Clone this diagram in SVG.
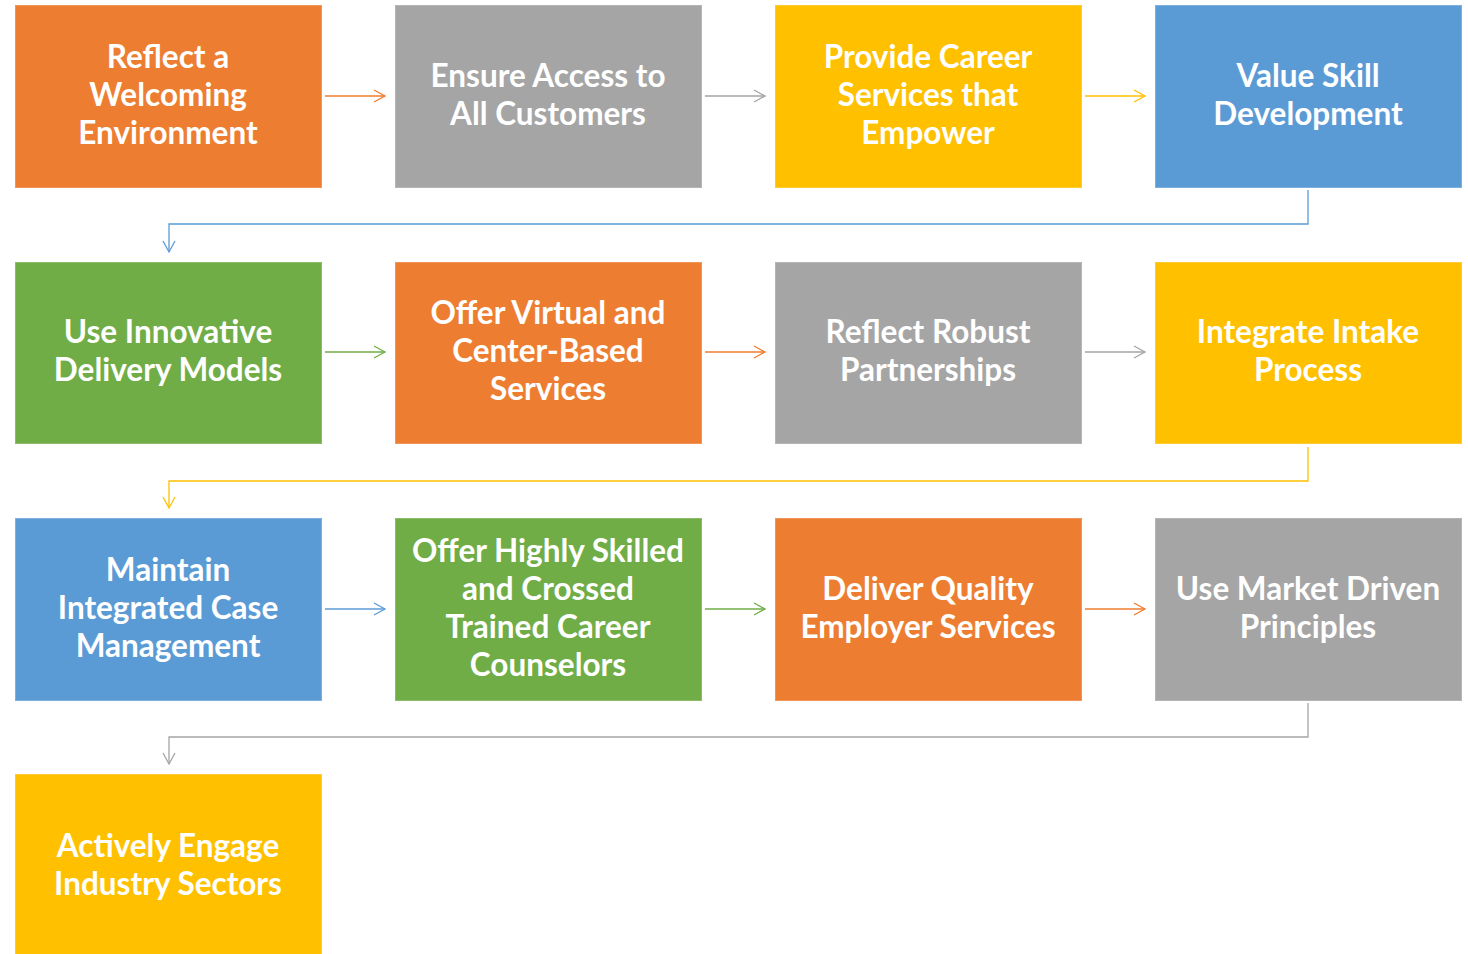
<svg xmlns="http://www.w3.org/2000/svg" width="1468" height="954" viewBox="0 0 1468 954">
<style>
.box{stroke-width:1}
.or{fill:#ED7D31;stroke:#F0965A}
.gr{fill:#A5A5A5;stroke:#B5B5B5}
.ye{fill:#FFC000;stroke:#FFCB33}
.bl{fill:#5B9BD5;stroke:#7DB0DE}
.gn{fill:#70AD47;stroke:#8BBD69}
text{font-family:Lato,"Open Sans","Liberation Sans",sans-serif;font-weight:700;font-size:31.5px;fill:#FFFFFF;text-anchor:middle}
.c{fill:none;stroke-width:1.3}
.co{stroke:#ED7D31}.cg{stroke:#A5A5A5}.cy{stroke:#FFC000}.cb{stroke:#5B9BD5}.cn{stroke:#70AD47}
</style>
<defs>
<marker id="mo" markerUnits="userSpaceOnUse" markerWidth="14" markerHeight="16" refX="12" refY="7" orient="auto"><path d="M1,1 L12,7 L1,13" fill="none" stroke="#ED7D31" stroke-width="1.3"/></marker>
<marker id="mg" markerUnits="userSpaceOnUse" markerWidth="14" markerHeight="16" refX="12" refY="7" orient="auto"><path d="M1,1 L12,7 L1,13" fill="none" stroke="#A5A5A5" stroke-width="1.3"/></marker>
<marker id="my" markerUnits="userSpaceOnUse" markerWidth="14" markerHeight="16" refX="12" refY="7" orient="auto"><path d="M1,1 L12,7 L1,13" fill="none" stroke="#FFC000" stroke-width="1.3"/></marker>
<marker id="mb" markerUnits="userSpaceOnUse" markerWidth="14" markerHeight="16" refX="12" refY="7" orient="auto"><path d="M1,1 L12,7 L1,13" fill="none" stroke="#5B9BD5" stroke-width="1.3"/></marker>
<marker id="mn" markerUnits="userSpaceOnUse" markerWidth="14" markerHeight="16" refX="12" refY="7" orient="auto"><path d="M1,1 L12,7 L1,13" fill="none" stroke="#70AD47" stroke-width="1.3"/></marker>
</defs>
<rect width="1468" height="954" fill="#FFFFFF"/>
<g id="connectors">
<path class="c co" d="M325,96 H385" marker-end="url(#mo)"/>
<path class="c cg" d="M705,96 H765" marker-end="url(#mg)"/>
<path class="c cy" d="M1085,96 H1145" marker-end="url(#my)"/>
<path class="c cb" d="M1308,190 V224 H169 V252" marker-end="url(#mb)"/>
<path class="c cn" d="M325,352 H385" marker-end="url(#mn)"/>
<path class="c co" d="M705,352 H765" marker-end="url(#mo)"/>
<path class="c cg" d="M1085,352 H1145" marker-end="url(#mg)"/>
<path class="c cy" d="M1308,447 V481 H169 V508" marker-end="url(#my)"/>
<path class="c cb" d="M325,609 H385" marker-end="url(#mb)"/>
<path class="c cn" d="M705,609 H765" marker-end="url(#mn)"/>
<path class="c co" d="M1085,609 H1145" marker-end="url(#mo)"/>
<path class="c cg" d="M1308,703 V737 H169 V764" marker-end="url(#mg)"/>
</g>
<g id="n1"><rect class="box or" x="15.5" y="5.5" width="306" height="182"/><text x="168" y="68">Reflect a</text><text x="168" y="106">Welcoming</text><text x="168" y="144">Environment</text></g>
<g id="n2"><rect class="box gr" x="395.5" y="5.5" width="306" height="182"/><text x="548" y="87">Ensure Access to</text><text x="548" y="125">All Customers</text></g>
<g id="n3"><rect class="box ye" x="775.5" y="5.5" width="306" height="182"/><text x="928" y="68">Provide Career</text><text x="928" y="106">Services that</text><text x="928" y="144">Empower</text></g>
<g id="n4"><rect class="box bl" x="1155.5" y="5.5" width="306" height="182"/><text x="1308" y="87">Value Skill</text><text x="1308" y="125">Development</text></g>
<g id="n5"><rect class="box gn" x="15.5" y="262.5" width="306" height="181"/><text x="168" y="343">Use Innovative</text><text x="168" y="381">Delivery Models</text></g>
<g id="n6"><rect class="box or" x="395.5" y="262.5" width="306" height="181"/><text x="548" y="324">Offer Virtual and</text><text x="548" y="362">Center-Based</text><text x="548" y="400">Services</text></g>
<g id="n7"><rect class="box gr" x="775.5" y="262.5" width="306" height="181"/><text x="928" y="343">Reflect Robust</text><text x="928" y="381">Partnerships</text></g>
<g id="n8"><rect class="box ye" x="1155.5" y="262.5" width="306" height="181"/><text x="1308" y="343">Integrate Intake</text><text x="1308" y="381">Process</text></g>
<g id="n9"><rect class="box bl" x="15.5" y="518.5" width="306" height="182"/><text x="168" y="581">Maintain</text><text x="168" y="619">Integrated Case</text><text x="168" y="657">Management</text></g>
<g id="n10"><rect class="box gn" x="395.5" y="518.5" width="306" height="182"/><text x="548" y="562">Offer Highly Skilled</text><text x="548" y="600">and Crossed</text><text x="548" y="638">Trained Career</text><text x="548" y="676">Counselors</text></g>
<g id="n11"><rect class="box or" x="775.5" y="518.5" width="306" height="182"/><text x="928" y="600">Deliver Quality</text><text x="928" y="638">Employer Services</text></g>
<g id="n12"><rect class="box gr" x="1155.5" y="518.5" width="306" height="182"/><text x="1308" y="600">Use Market Driven</text><text x="1308" y="638">Principles</text></g>
<g id="n13"><rect class="box ye" x="15.5" y="774.5" width="306" height="185"/><text x="168" y="857">Actively Engage</text><text x="168" y="895">Industry Sectors</text></g>
</svg>
